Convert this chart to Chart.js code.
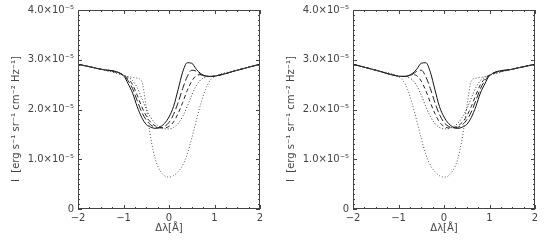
<!DOCTYPE html>
<html><head><meta charset="utf-8">
<script src="https://cdn.jsdelivr.net/npm/chart.js@4/dist/chart.umd.min.js"></script>
<style>
html,body{margin:0;padding:0;background:#fff;width:545px;height:245px;overflow:hidden}
#cl{position:absolute;left:0;top:0}
#cr{position:absolute;left:275px;top:0}
</style>
</head><body>
<canvas id="cl" width="272" height="245" style="width:272px;height:245px"></canvas>
<canvas id="cr" width="270" height="245" style="width:270px;height:245px"></canvas>
<script>
// wavelength offset grid (Å)
const dLambda = [-2,-1.5,-1.0,-0.9,-0.8,-0.7,-0.6,-0.5,-0.4,-0.3,-0.2,-0.1,0,0.1,0.2,0.3,0.4,0.5,0.6,0.7,0.8,0.9,1.0,1.5,2];
// intensities in units of 1e-5 erg s^-1 sr^-1 cm^-2 Hz^-1
// left panel
const leftSolid   = [2.91,2.81,2.68,2.52,2.33,2.06,1.84,1.70,1.645,1.62,1.645,1.72,1.85,2.06,2.40,2.75,2.94,2.93,2.81,2.72,2.675,2.665,2.67,2.79,2.91];
const leftDashed  = [2.91,2.81,2.69,2.58,2.42,2.18,1.95,1.79,1.69,1.64,1.63,1.66,1.74,1.90,2.14,2.42,2.66,2.79,2.77,2.70,2.67,2.665,2.67,2.79,2.91];
const leftDash2   = [2.91,2.81,2.69,2.62,2.50,2.29,2.06,1.87,1.74,1.67,1.635,1.63,1.66,1.75,1.92,2.14,2.38,2.57,2.68,2.70,2.675,2.665,2.67,2.79,2.91];
const leftDotted  = [2.91,2.81,2.69,2.65,2.58,2.44,2.23,2.01,1.84,1.72,1.65,1.615,1.61,1.64,1.72,1.86,2.06,2.29,2.48,2.60,2.65,2.665,2.67,2.79,2.91];
const leftDeep    = [2.91,2.81,2.69,2.66,2.645,2.63,2.57,2.05,1.42,1.0,0.78,0.67,0.64,0.67,0.75,0.88,1.1,1.42,1.78,2.12,2.40,2.58,2.66,2.79,2.91];
// right panel
const rightSolid  = [2.91,2.79,2.67,2.665,2.675,2.72,2.81,2.93,2.94,2.75,2.40,2.06,1.85,1.72,1.645,1.62,1.645,1.70,1.84,2.06,2.33,2.52,2.68,2.81,2.91];
const rightDashed = [2.91,2.79,2.67,2.665,2.67,2.70,2.77,2.79,2.66,2.42,2.14,1.90,1.74,1.66,1.63,1.64,1.69,1.79,1.95,2.18,2.42,2.58,2.69,2.81,2.91];
const rightDash2  = [2.91,2.79,2.67,2.665,2.675,2.70,2.68,2.57,2.38,2.14,1.92,1.75,1.66,1.63,1.635,1.67,1.74,1.87,2.06,2.29,2.50,2.62,2.69,2.81,2.91];
const rightDotted = [2.91,2.79,2.67,2.665,2.65,2.60,2.48,2.29,2.06,1.86,1.72,1.64,1.61,1.615,1.65,1.72,1.84,2.01,2.23,2.44,2.58,2.65,2.69,2.81,2.91];
const rightDeep   = [2.91,2.79,2.66,2.58,2.40,2.12,1.78,1.42,1.1,0.88,0.75,0.67,0.64,0.67,0.78,1.0,1.42,2.05,2.57,2.63,2.645,2.66,2.69,2.81,2.91];

const xTicks = [-2,-1,0,1,2];
const xTickLabels = ['\u22122','\u22121','0','1','2'];
const yTicks = [0,1,2,3,4];
const yTickLabels = ['0','1.0\u00d710\u207b\u2075','2.0\u00d710\u207b\u2075','3.0\u00d710\u207b\u2075','4.0\u00d710\u207b\u2075'];
const xTitle = '\u0394\u03bb[\u00c5]';
const yTitle = 'I  [erg s\u207b\u00b9 sr\u207b\u00b9 cm\u207b\u00b2 Hz\u207b\u00b9]\u00a0\u00a0\u00a0\u00a0\u00a0\u00a0';
const xMinorDiv = 4, yMinorDiv = 10;

const FONT = 'DejaVu Sans';
const AX = '#444';

const idlTicks = {
  id:'idlTicks',
  afterDraw(chart){
    const {ctx, chartArea:a, scales:{x,y}} = chart;
    ctx.save();
    ctx.strokeStyle = AX; ctx.lineWidth = 1;
    ctx.strokeRect(Math.round(a.left)+0.5, Math.round(a.top)+0.5, Math.round(a.right-a.left)-1, Math.round(a.bottom-a.top)-1);
    ctx.beginPath();
    const nx = Math.round(x.max - x.min)*xMinorDiv;
    for(let i=0;i<=nx;i++){
      const v = x.min + i*(1/xMinorDiv);
      const px = Math.round(x.getPixelForValue(v))+0.5;
      const len = (i%xMinorDiv===0)?4:2;
      ctx.moveTo(px,a.bottom); ctx.lineTo(px,a.bottom-len);
      ctx.moveTo(px,a.top); ctx.lineTo(px,a.top+len);
    }
    const ny = Math.round(y.max - y.min)*yMinorDiv;
    for(let i=0;i<=ny;i++){
      const v = y.min + i*(1/yMinorDiv);
      const py = Math.round(y.getPixelForValue(v))+0.5;
      const len = (i%yMinorDiv===0)?4:2;
      ctx.moveTo(a.left,py); ctx.lineTo(a.left+len,py);
      ctx.moveTo(a.right,py); ctx.lineTo(a.right-len,py);
    }
    ctx.stroke();
    ctx.restore();
  }
};

function pts(ys){ return dLambda.map((x,i)=>({x, y: ys[i]})); }
function ds(ys, dash, color){
  return {data: pts(ys), showLine:true, borderColor:color, borderWidth:1, borderDash:dash,
          pointRadius:0, cubicInterpolationMode:'monotone', fill:false};
}

function makeChart(id, series, rightPad){
  return new Chart(document.getElementById(id), {
    type:'scatter',
    data:{datasets:[
      ds(series[4],[1,2],'#555'),
      ds(series[3],[1,2],'#333'),
      ds(series[2],[4,3],'#222'),
      ds(series[1],[7,3],'#222'),
      ds(series[0],[],'#111')
    ]},
    options:{
      responsive:false, animation:false, devicePixelRatio:1,
      layout:{padding:{left:10,right:rightPad,top:10,bottom:11}},
      plugins:{legend:{display:false}, tooltip:{enabled:false}},
      scales:{
        x:{type:'linear', min:-2, max:2,
           grid:{display:false, drawTicks:false}, border:{display:false},
           afterBuildTicks(s){ s.ticks = xTicks.map(v=>({value:v})); },
           ticks:{color:AX, font:{family:FONT,size:10}, padding:3, maxRotation:0,
                  callback:(v)=>xTickLabels[xTicks.indexOf(v)]},
           title:{display:true, text:xTitle, color:AX, font:{family:FONT,size:10}, padding:{top:0,bottom:0}},
           afterFit(s){ s.height = 25; }
        },
        y:{type:'linear', min:0, max:4,
           grid:{display:false, drawTicks:false}, border:{display:false},
           afterBuildTicks(s){ s.ticks = yTicks.map(v=>({value:v})); },
           ticks:{color:AX, font:{family:FONT,size:10}, padding:4,
                  callback:(v)=>yTickLabels[yTicks.indexOf(v)]},
           title:{display:true, text:yTitle, color:AX, font:{family:FONT,size:10}, padding:{top:0,bottom:0}},
           afterFit(s){ s.width = 68; }
        }
      }
    },
    plugins:[idlTicks]
  });
}

makeChart('cl', [leftSolid,leftDashed,leftDash2,leftDotted,leftDeep], 12);
makeChart('cr', [rightSolid,rightDashed,rightDash2,rightDotted,rightDeep], 10);
</script>
</body></html>
